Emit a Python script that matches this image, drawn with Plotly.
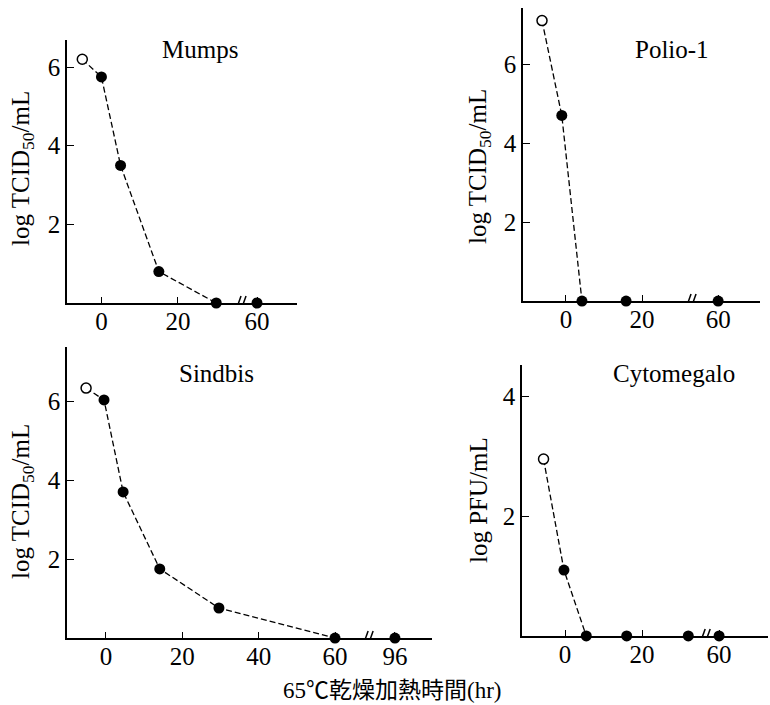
import plotly.graph_objects as go

# ---------------- data ----------------
panel_names = ["Mumps", "Polio-1", "Sindbis", "Cytomegalo"]
y_titles = ["log TCID<sub>50</sub>/mL", "log TCID<sub>50</sub>/mL",
            "log TCID<sub>50</sub>/mL", "log PFU/mL"]
x_title = "65℃乾燥加熱時間(hr)"

mumps_time = [-5, 0, 5, 15, 30, 60]
mumps_log = [6.2, 5.75, 3.5, 0.8, 0, 0]

polio_time = [-6.3, -1.1, 4.2, 15.8, 60]
polio_log = [7.1, 4.7, 0, 0, 0]

sindbis_time = [-5.2, -0.5, 4.5, 14.1, 29.6, 60, 96]
sindbis_log = [6.33, 6.03, 3.7, 1.75, 0.76, 0, 0]

cyto_time = [-5.6, -0.3, 5.5, 16, 32, 60]
cyto_pfu = [2.95, 1.1, 0, 0, 0, 0]

x_ticks = [[0, 20, 60], [0, 20, 60], [0, 20, 40, 60, 96], [0, 20, 60]]
y_ticks = [[2, 4, 6], [2, 4, 6], [2, 4, 6], [2, 4]]

series_t = [mumps_time, polio_time, sindbis_time, cyto_time]
series_v = [mumps_log, polio_log, sindbis_log, cyto_pfu]

# ---------------- layout config (broken axes) ----------------
cfg = [
    dict(xd=[0.0870, 0.3857], yd=[0.5702, 0.9433], xr=[-9.0, 51.1], yr=[0, 6.69],
         bmap={60: 40.65}, brk=37.0, title_xy=(200, 50), ytitle_xy=(22, 169)),
    dict(xd=[0.6792, 0.9870], yd=[0.5730, 0.9887], xr=[-11.3, 51.0], yr=[0, 7.42],
         bmap={60: 40.0}, brk=33.4, title_xy=(672, 50), ytitle_xy=(479, 167)),
    dict(xd=[0.0870, 0.5610], yd=[0.0950, 0.5078], xr=[-10.2, 85.4], yr=[0, 7.37],
         bmap={96: 75.7}, brk=69.2, title_xy=(216, 373), ytitle_xy=(22, 502)),
    dict(xd=[0.6779, 0.9974], yd=[0.0979, 0.4823], xr=[-11.2, 52.7], yr=[0, 4.52],
         bmap={60: 40.0}, brk=36.9, title_xy=(674, 373), ytitle_xy=(478, 500)),
]

W, H = 770, 705
SERIF = "Liberation Serif, Times New Roman, serif"
CJK = "Liberation Serif, Noto Sans CJK JP, serif"

fig = go.Figure()
shapes = []
annotations = []

for i, c in enumerate(cfg):
    n = "" if i == 0 else str(i + 1)
    xa, ya = "x" + n, "y" + n
    t = series_t[i]
    v = series_v[i]
    disp = [c["bmap"].get(tt, tt) for tt in t]
    # dashed line up to first zero
    iz = v.index(0)
    fig.add_trace(go.Scatter(x=disp[:iz + 1], y=v[:iz + 1], mode="lines",
                             line=dict(color="black", width=1.3, dash="6px,3px"),
                             xaxis=xa, yaxis=ya, showlegend=False, cliponaxis=False,
                             hoverinfo="skip"))
    # open (control) point
    fig.add_trace(go.Scatter(x=disp[:1], y=v[:1], mode="markers",
                             marker=dict(symbol="circle", size=10, color="white",
                                         line=dict(color="black", width=1.5)),
                             xaxis=xa, yaxis=ya, showlegend=False, cliponaxis=False))
    # filled points
    fig.add_trace(go.Scatter(x=disp[1:], y=v[1:], mode="markers",
                             marker=dict(symbol="circle", size=11, color="black"),
                             xaxis=xa, yaxis=ya, showlegend=False, cliponaxis=False))

    tv = [c["bmap"].get(tt, tt) for tt in x_ticks[i]]
    common = dict(showline=True, linecolor="black", linewidth=1.7, mirror=False,
                  ticks="inside", tickcolor="black", tickwidth=1.4,
                  showgrid=False, zeroline=False,
                  tickfont=dict(family=SERIF, size=25, color="black"))
    fig.layout["xaxis" + n] = dict(domain=c["xd"], range=c["xr"], anchor=ya,
                                    tickvals=tv, ticktext=[str(k) for k in x_ticks[i]],
                                    ticklen=6, ticklabelstandoff=-5, **common)
    fig.layout["yaxis" + n] = dict(domain=c["yd"], range=c["yr"], anchor=xa,
                                    tickvals=y_ticks[i], ticklen=7, **common)

    # axis break marks "//"
    for off in (-5, 0):
        shapes.append(dict(type="line", xref=xa, yref=ya,
                           xsizemode="pixel", ysizemode="pixel",
                           xanchor=c["brk"], yanchor=0,
                           x0=off - 2, x1=off + 3, y0=-7, y1=7,
                           line=dict(color="black", width=1.5)))

    tx, ty = c["title_xy"]
    annotations.append(dict(text=panel_names[i], x=tx / W, y=1 - ty / H,
                            xref="paper", yref="paper", showarrow=False,
                            xanchor="center", yanchor="middle",
                            font=dict(family=SERIF, size=25, color="black")))
    yx, yy = c["ytitle_xy"]
    annotations.append(dict(text=y_titles[i], x=yx / W, y=1 - yy / H,
                            xref="paper", yref="paper", showarrow=False,
                            textangle=-90, xanchor="center", yanchor="middle",
                            font=dict(family=SERIF, size=25, color="black")))

annotations.append(dict(text=x_title, x=392 / W, y=1 - 690 / H,
                        xref="paper", yref="paper", showarrow=False,
                        xanchor="center", yanchor="middle",
                        font=dict(family=CJK, size=23, color="black")))

fig.update_layout(width=W, height=H, margin=dict(l=0, r=0, t=0, b=0),
                  paper_bgcolor="white", plot_bgcolor="white",
                  shapes=shapes, annotations=annotations, showlegend=False)

fig.write_html("out.html")
